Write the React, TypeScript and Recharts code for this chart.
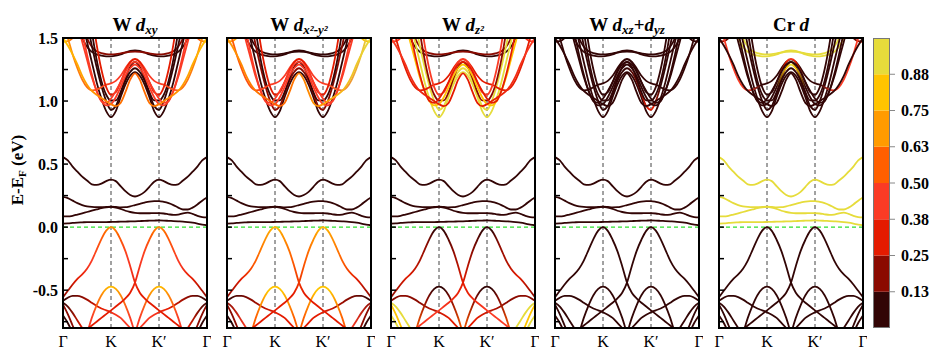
import React from 'react';
import { LineChart, Line, XAxis, YAxis, ReferenceLine, BarChart, Bar } from 'recharts';

const gap = (n: number) => Array(n).fill(null);

// k path: Γ(0) → K(1) → K'(2) → Γ(3)
const K_PTS = [0, 0.1, 0.2, 0.3, 0.4, 0.5, 0.6, 0.7, 0.8, 0.9, 1, 1.1, 1.2, 1.3, 1.4, 1.5, 1.6, 1.7, 1.8, 1.9, 2, 2.1, 2.2, 2.3, 2.4, 2.5, 2.6, 2.7, 2.8, 2.9, 3];
const X_TICKS = [0, 1, 2, 3];
const X_LABELS = ['Γ', 'K', 'K′', 'Γ'];
const Y_TICKS = [-0.75, -0.5, -0.25, 0, 0.25, 0.5, 0.75, 1, 1.25, 1.5];
const Y_LABELS: Record<string, string> = { '-0.5': '-0.5', '0': '0.0', '0.5': '0.5', '1': '1.0', '1.5': '1.5' };

// in-gap bands
const GAP_A = [0.555, 0.53, 0.48, 0.44, 0.4, 0.37, 0.34, 0.335, 0.345, 0.365, 0.376, 0.365, 0.325, 0.285, 0.255, 0.243, 0.255, 0.28, 0.32, 0.36, 0.376, 0.365, 0.345, 0.335, 0.34, 0.37, 0.4, 0.44, 0.48, 0.53, 0.555];
const GAP_B = [0.24, 0.23, 0.21, 0.19, 0.175, 0.165, 0.16, 0.158, 0.158, 0.16, 0.162, 0.16, 0.157, 0.158, 0.165, 0.175, 0.185, 0.195, 0.203, 0.206, 0.206, 0.2, 0.19, 0.175, 0.155, 0.14, 0.14, 0.155, 0.18, 0.21, 0.235];
const GAP_C = [0.085, 0.085, 0.09, 0.1, 0.11, 0.12, 0.13, 0.14, 0.15, 0.157, 0.16, 0.155, 0.145, 0.13, 0.12, 0.113, 0.11, 0.11, 0.11, 0.111, 0.111, 0.108, 0.102, 0.097, 0.1, 0.11, 0.115, 0.105, 0.09, 0.08, 0.077];
const GAP_D = [0.028, 0.03, 0.033, 0.036, 0.038, 0.04, 0.04, 0.04, 0.04, 0.04, 0.041, 0.042, 0.043, 0.044, 0.045, 0.046, 0.048, 0.05, 0.051, 0.052, 0.053, 0.052, 0.05, 0.048, 0.046, 0.044, 0.04, 0.035, 0.028, 0.02, 0.015];

// valence bands
const VB1 = [-0.555, -0.505, -0.455, -0.41, -0.375, -0.33, -0.265, -0.18, -0.095, -0.028, 0, -0.03, -0.1, -0.19, -0.31, -0.44, -0.52, -0.565, -0.6, -0.63, -0.66, -0.69, -0.72, -0.75, -0.78, -0.81, -0.85, ...gap(4)];
const VB2 = [...gap(4), -0.85, -0.81, -0.78, -0.75, -0.72, -0.69, -0.66, -0.63, -0.6, -0.565, -0.52, -0.44, -0.31, -0.19, -0.1, -0.03, 0, -0.028, -0.095, -0.18, -0.265, -0.33, -0.375, -0.41, -0.455, -0.505, -0.555];
const VB3 = [...gap(4), -0.93, -0.84, -0.72, -0.62, -0.54, -0.49, -0.472, -0.49, -0.54, -0.62, -0.72, -0.84, -0.93, ...gap(14)];
const VB4 = [...gap(14), -0.93, -0.84, -0.72, -0.62, -0.54, -0.49, -0.472, -0.49, -0.54, -0.62, -0.72, -0.84, -0.93, ...gap(4)];
const D1 = [-0.585, -0.56, -0.545, -0.545, -0.555, -0.575, -0.6, -0.625, -0.645, -0.66, -0.675, -0.695, -0.72, -0.76, -0.8, -0.85, ...gap(15)];
const D1M = [...gap(15), -0.85, -0.8, -0.76, -0.72, -0.695, -0.675, -0.66, -0.645, -0.625, -0.6, -0.575, -0.555, -0.545, -0.545, -0.56, -0.585];
const D2 = [-0.6, -0.63, -0.68, -0.74, -0.8, -0.86, ...gap(25)];
const D2M = [...gap(25), -0.86, -0.8, -0.74, -0.68, -0.63, -0.6];
const D3 = [-0.615, -0.69, -0.78, -0.87, ...gap(27)];
const D3M = [...gap(27), -0.87, -0.78, -0.69, -0.615];
const D4 = [-0.7, -0.76, -0.84, ...gap(28)];
const D4M = [...gap(28), -0.84, -0.76, -0.7];

// conduction bands
const C1 = [...gap(4), 1.63, 1.47, 1.31, 1.15, 1.02, 0.92, 0.872, 0.92, 1.03, 1.13, 1.2, 1.23, 1.2, 1.13, 1.03, 0.92, 0.872, 0.92, 1.02, 1.15, 1.31, 1.47, 1.63, ...gap(4)];
const C2 = [...gap(5), 1.62, 1.44, 1.27, 1.12, 1.0, 0.93, 0.96, 1.06, 1.16, 1.23, 1.26, 1.23, 1.16, 1.06, 0.96, 0.93, 1.0, 1.12, 1.27, 1.44, 1.62, ...gap(5)];
const C3 = [...gap(3), 1.62, 1.47, 1.33, 1.19, 1.08, 1.0, 0.965, 0.975, 1.03, 1.11, 1.2, 1.26, 1.29, 1.26, 1.2, 1.11, 1.03, 0.975, 0.965, 1.0, 1.08, 1.19, 1.33, 1.47, 1.62, ...gap(3)];
const C4 = [...gap(6), 1.55, 1.33, 1.16, 1.05, 1.005, 1.005, 1.07, 1.18, 1.27, 1.31, 1.27, 1.18, 1.07, 1.005, 1.005, 1.05, 1.16, 1.33, 1.55, ...gap(6)];
const C5 = [...gap(6), 1.7, 1.45, 1.25, 1.11, 1.05, 1.07, 1.15, 1.24, 1.31, 1.335, 1.31, 1.24, 1.15, 1.07, 1.05, 1.11, 1.25, 1.45, 1.7, ...gap(6)];
const C6 = [1.5, 1.44, 1.37, 1.29, 1.2, 1.13, 1.08, 1.05, 1.025, 1.0, 0.975, 0.96, 0.985, 1.07, 1.17, 1.22, 1.17, 1.07, 0.985, 0.96, 0.975, 1.0, 1.025, 1.05, 1.08, 1.13, 1.2, 1.29, 1.37, 1.44, 1.5];
const C7 = [...gap(3), 1.75, 1.55, 1.37, 1.21, 1.08, 1.0, 0.985, 1.02, 1.08, 1.15, 1.23, 1.29, 1.31, 1.29, 1.23, 1.15, 1.08, 1.02, 0.985, 1.0, 1.08, 1.21, 1.37, 1.55, 1.75, ...gap(3)];
const C8 = [1.62, 1.5, 1.37, 1.26, 1.17, 1.11, 1.085, 1.09, 1.11, 1.13, 1.14, 1.16, 1.2, 1.26, 1.31, 1.33, 1.31, 1.26, 1.2, 1.16, 1.14, 1.13, 1.11, 1.09, 1.085, 1.11, 1.17, 1.26, 1.37, 1.5, 1.62];
const S1 = [...gap(3), 1.6, 1.5, 1.43, 1.39, 1.37, 1.36, 1.355, 1.355, 1.36, 1.37, 1.385, 1.398, 1.402, 1.398, 1.385, 1.37, 1.36, 1.355, 1.355, 1.36, 1.37, 1.39, 1.43, 1.5, 1.6, ...gap(3)];
const S2 = [...gap(4), 1.62, 1.5, 1.43, 1.395, 1.38, 1.372, 1.37, 1.372, 1.378, 1.385, 1.39, 1.392, 1.39, 1.385, 1.378, 1.372, 1.37, 1.372, 1.38, 1.395, 1.43, 1.5, 1.62, ...gap(4)];
const GC = [1.47, 1.475, 1.5, 1.55, ...gap(23), 1.55, 1.5, 1.475, 1.47];

const BANDS: { key: string; e: (number | null)[] }[] = [
  { key: 'd1', e: D1 }, { key: 'd1m', e: D1M }, { key: 'd2', e: D2 }, { key: 'd2m', e: D2M },
  { key: 'd3', e: D3 }, { key: 'd3m', e: D3M }, { key: 'd4', e: D4 }, { key: 'd4m', e: D4M },
  { key: 'vb3', e: VB3 }, { key: 'vb4', e: VB4 }, { key: 'vb1', e: VB1 }, { key: 'vb2', e: VB2 },
  { key: 'ga', e: GAP_A }, { key: 'gb', e: GAP_B }, { key: 'gc', e: GAP_C }, { key: 'gd', e: GAP_D },
  { key: 's1', e: S1 }, { key: 's2', e: S2 }, { key: 'gcn', e: GC },
  { key: 'c1', e: C1 }, { key: 'c2', e: C2 }, { key: 'c4', e: C4 }, { key: 'c3', e: C3 },
  { key: 'c8', e: C8 }, { key: 'c5', e: C5 }, { key: 'c7', e: C7 }, { key: 'c6', e: C6 },
];

const CMAP = ['#320505', '#8b0a00', '#e41b00', '#fb3b25', '#ff5f00', '#ff9b00', '#ffc400', '#e6dc3b'];

type Stops = number | [number, number][];

// projection weight (colour index) along k for each band, one table per panel
const COL_DXY: Record<string, Stops> = {
  vb1: [[0, 1], [0.3, 2], [0.6, 3], [0.85, 4], [1, 5], [1.15, 4], [1.35, 3], [1.6, 2]],
  vb2: [[1.4, 2], [1.65, 3], [1.85, 4], [2, 5], [2.15, 4], [2.4, 3], [2.7, 2], [3, 1]],
  vb3: [[0.6, 3], [0.85, 5], [1, 6], [1.15, 5], [1.4, 3]],
  vb4: [[1.6, 3], [1.85, 5], [2, 6], [2.15, 5], [2.4, 3]],
  d1: [[0, 0], [0.4, 1], [0.8, 2], [1.2, 3]], d1m: [[1.8, 3], [2.2, 2], [2.6, 1], [3, 0]],
  d2: [[0, 0], [0.4, 2]], d2m: [[2.6, 2], [3, 0]], d3: 1, d3m: 1,
  c3: 3, c5: 2, c7: 3, s2: 1,
  c6: [[0, 6], [0.5, 5], [1.5, 4], [2.5, 5], [3, 6]],
  c8: [[0, 5], [1, 3], [2, 3], [3, 5]],
  gcn: [[0, 6], [0.3, 3], [2.7, 3], [3, 5]],
};
const COL_DX2 : Record<string, Stops> = {
  vb1: [[0, 1], [0.3, 2], [0.6, 4], [0.85, 5], [1, 6], [1.15, 5], [1.35, 4], [1.6, 2]],
  vb2: [[1.4, 2], [1.65, 4], [1.85, 5], [2, 6], [2.15, 5], [2.4, 4], [2.7, 2], [3, 1]],
  vb3: [[0.6, 4], [0.85, 6], [1, 6], [1.15, 6], [1.4, 4]],
  vb4: [[1.6, 4], [1.85, 6], [2, 6], [2.15, 6], [2.4, 4]],
  d1: [[0, 0], [0.5, 1], [1, 2]], d1m: [[2, 2], [2.5, 1], [3, 0]],
  d2: [[0, 1], [0.4, 3]], d2m: [[2.6, 3], [3, 1]], d3: 1, d3m: 1,
  c2: 1, c3: 3, c5: 2, c7: 3,
  c6: [[0, 5], [1, 4], [2, 5], [3, 7]],
  c8: [[0, 4], [1, 3], [2, 3], [3, 7]],
  gcn: [[0, 5], [3, 6]],
};
const COL_DZ2: Record<string, Stops> = {
  vb1: [[0, 1], [0.35, 2], [0.75, 1], [0.9, 0], [1.1, 0], [1.3, 1], [1.5, 2], [2, 3]],
  vb2: [[1, 3], [1.5, 2], [1.7, 1], [1.9, 0], [2.1, 0], [2.25, 1], [2.65, 2], [3, 1]],
  vb3: [[0.5, 4], [0.75, 1], [0.9, 0], [1.1, 0], [1.25, 1], [1.5, 4]],
  vb4: [[1.5, 4], [1.75, 1], [1.9, 0], [2.1, 0], [2.25, 1], [2.5, 4]],
  d1: [[0, 1], [0.6, 1], [1.2, 2]], d1m: [[1.8, 2], [2.4, 1], [3, 1]],
  d2: 7, d2m: 7, d3: 6, d3m: 6, d4: 7, d4m: 7,
  c1: 7, c2: 7, c3: 6, c4: 1, c5: 3, c7: 2, c8: 2, s2: 1,
  c6: [[0, 3], [1, 2], [2, 2], [3, 3]],
  gcn: 3,
};
const COL_DXZ: Record<string, Stops> = {
  c2: [[1.5, 0], [1.75, 1], [1.95, 2], [2.05, 2], [2.2, 0]],
};
const COL_CR: Record<string, Stops> = {
  ga: 7, gb: 7, gc: 7, gd: 7, s1: 7, s2: 7,
  c5: [[1.2, 0], [1.4, 2], [1.5, 3], [1.6, 2], [1.8, 0]],
  c3: [[1.2, 0], [1.4, 6], [1.5, 7], [1.6, 6], [1.8, 0]],
  c8: [[0, 3], [0.6, 3], [0.9, 0], [2.1, 0], [2.4, 3], [3, 3]],
  gcn: [[0, 2], [0.25, 0], [2.75, 0], [3, 2]],
};
const PANEL_COLORS = [COL_DXY, COL_DX2, COL_DZ2, COL_DXZ, COL_CR];

const CBAR_SEG = [0.125, 0.125, 0.125, 0.125, 0.125, 0.125, 0.125, 0.125];
const CBAR_TICKS = [0.125, 0.25, 0.375, 0.5, 0.625, 0.75, 0.875];
const CBAR_LABELS = ['0.13', '0.25', '0.38', '0.50', '0.63', '0.75', '0.88'];

const PLOT_LEFT = [63, 227, 391, 555, 719];
const PLOT_W = 144;
const PLOT_TOP = 38;
const PLOT_H = 290;
const Y_W = 50;
const SERIF = '"Liberation Serif", "Times New Roman", serif';

const TITLES: React.ReactNode[] = [
  <>W <i>d</i><Sub>xy</Sub></>,
  <>W <i>d</i><Sub>x²-y²</Sub></>,
  <>W <i>d</i><Sub>z²</Sub></>,
  <>W <i>d</i><Sub>xz</Sub>+<i>d</i><Sub>yz</Sub></>,
  <>Cr <i>d</i></>,
];

function Sub({ children }: { children: React.ReactNode }) {
  return <span style={{ fontSize: 13, fontStyle: 'italic', position: 'relative', top: 3 }}>{children}</span>;
}

function Panel({ idx }: { idx: number }) {
  const colors = PANEL_COLORS[idx];
  const rows = K_PTS.map((k, i) => {
    const r: Record<string, number | null> = { k };
    BANDS.forEach((b) => { r[b.key] = b.e[i]; });
    return r;
  });
  const strokeOf = (key: string) => {
    const s = colors[key];
    if (s === undefined) return CMAP[0];
    if (typeof s === 'number') return CMAP[s];
    return `url(#g${idx}_${key})`;
  };
  const YTick = (p: any) => {
    const label = Y_LABELS[String(p.payload.value)];
    return (
      <g>
        <line x1={p.x} x2={p.x + 5} y1={p.y} y2={p.y} stroke="#000" strokeWidth={1.5} />
        {idx === 0 && label && (
          <text x={p.x - 5} y={p.y} textAnchor="end" dominantBaseline="central" fontFamily={SERIF} fontWeight="bold" fontSize={16} fill="#000">{label}</text>
        )}
      </g>
    );
  };
  const XTick = (p: any) => (
    <text x={p.x} y={p.y + 19} textAnchor="middle" fontFamily={SERIF} fontSize={16} fill="#000">{X_LABELS[X_TICKS.indexOf(p.payload.value)]}</text>
  );
  return (
    <>
      <div style={{ position: 'absolute', left: PLOT_LEFT[idx] - Y_W, top: 0 }}>
        <LineChart width={Y_W + PLOT_W + 4} height={361} data={rows} margin={{ top: PLOT_TOP, right: 4, bottom: 5, left: 0 }}>
          <defs>
            {BANDS.map((b) => {
              const s = colors[b.key];
              if (s === undefined || typeof s === 'number') return null;
              return (
                <linearGradient key={b.key} id={`g${idx}_${b.key}`} gradientUnits="userSpaceOnUse" x1={Y_W} x2={Y_W + PLOT_W} y1={0} y2={0}>
                  {s.map(([k, c], j) => <stop key={j} offset={k / 3} stopColor={CMAP[c]} />)}
                </linearGradient>
              );
            })}
          </defs>
          <XAxis type="number" dataKey="k" domain={[0, 3]} ticks={X_TICKS} interval={0} allowDataOverflow height={28}
            axisLine={false} tickLine={false} tickSize={0} tickMargin={0} tick={XTick} />
          <YAxis type="number" domain={[-0.8, 1.5]} ticks={Y_TICKS} interval={0} allowDataOverflow width={Y_W}
            axisLine={false} tickLine={false} tickSize={0} tickMargin={0} tick={YTick} />
          <ReferenceLine x={1} stroke="#444" strokeDasharray="4 3" strokeWidth={1} />
          <ReferenceLine x={2} stroke="#444" strokeDasharray="4 3" strokeWidth={1} />
          <ReferenceLine y={0} stroke="#2ee02e" strokeDasharray="4 3" strokeWidth={1.3} />
          {BANDS.map((b) => (
            <Line key={b.key} dataKey={b.key} type="monotone" stroke={strokeOf(b.key)} strokeWidth={1.8}
              dot={false} activeDot={false} isAnimationActive={false} connectNulls={false} />
          ))}
        </LineChart>
      </div>
      <div style={{ position: 'absolute', left: PLOT_LEFT[idx] - 1, top: PLOT_TOP - 1, width: PLOT_W + 2, height: PLOT_H + 2, border: '2px solid #000', boxSizing: 'border-box', pointerEvents: 'none' }} />
      <div style={{ position: 'absolute', left: PLOT_LEFT[idx], top: 15, width: PLOT_W, textAlign: 'center', fontFamily: SERIF, fontWeight: 'bold', fontSize: 19, lineHeight: '20px', whiteSpace: 'nowrap' }}>
        {TITLES[idx]}
      </div>
    </>
  );
}

function ColorBar() {
  const row: Record<string, number | string> = { name: 'w' };
  CBAR_SEG.forEach((v, i) => { row[`b${i}`] = v; });
  return (
    <>
      <div style={{ position: 'absolute', left: 873, top: 0 }}>
        <BarChart width={17 + 60} height={361} data={[row]} margin={{ top: PLOT_TOP, right: 0, bottom: 33, left: 0 }} barCategoryGap={0}>
          <XAxis dataKey="name" hide />
          <YAxis orientation="right" type="number" domain={[0, 1]} ticks={CBAR_TICKS} interval={0} width={60}
            axisLine={false} tickSize={5} tickMargin={6} tickLine={{ stroke: '#888' }}
            tickFormatter={(v: number) => CBAR_LABELS[CBAR_TICKS.indexOf(v)]}
            tick={{ fontFamily: SERIF, fontWeight: 'bold', fontSize: 16, fill: '#000' }} />
          {CBAR_SEG.map((_, i) => (
            <Bar key={i} dataKey={`b${i}`} stackId="a" fill={CMAP[i]} isAnimationActive={false} />
          ))}
        </BarChart>
      </div>
      <div style={{ position: 'absolute', left: 873, top: PLOT_TOP, width: 17, height: PLOT_H, border: '1px solid #777', boxSizing: 'border-box' }} />
    </>
  );
}

export default function App() {
  return (
    <div style={{ position: 'absolute', left: 0, top: 0, width: 943, height: 361, background: '#fff', overflow: 'hidden' }}>
      {[0, 1, 2, 3, 4].map((i) => <Panel key={i} idx={i} />)}
      <ColorBar />
      <div style={{ position: 'absolute', left: 18, top: 170, transform: 'translate(-50%, -50%) rotate(-90deg)', fontFamily: SERIF, fontWeight: 'bold', fontSize: 17, whiteSpace: 'nowrap' }}>
        E-E<span style={{ fontSize: 11, position: 'relative', top: 3 }}>F</span> (eV)
      </div>
    </div>
  );
}
